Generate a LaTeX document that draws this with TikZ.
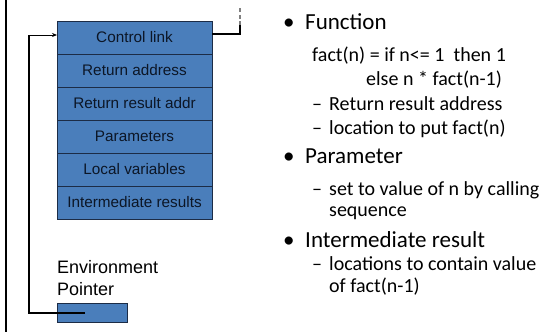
\documentclass[tikz,border=0pt]{standalone}
\usepackage{fontspec}
\setmainfont{Carlito}
\newfontfamily\boxfont{Liberation Sans}
\usetikzlibrary{arrows.meta,positioning}
\definecolor{cellblue}{RGB}{74,126,187}
\definecolor{celledge}{RGB}{28,44,70}
\definecolor{celltext}{RGB}{12,22,38}
\tikzset{
  cell/.style={draw=celledge, line width=0.9pt, fill=cellblue, minimum width=155pt,
    minimum height=33pt, inner sep=0pt, outer sep=0pt, anchor=north west,
    font=\boxfont\fontsize{15.3}{18}\selectfont, text=celltext},
  lvlone/.style={anchor=base west, inner sep=0pt, font=\fontsize{23}{27}\selectfont},
  lvltwo/.style={anchor=base west, inner sep=0pt, font=\fontsize{20}{24}\selectfont},
  link/.style={line width=2pt, black},
}
\begin{document}
\begin{tikzpicture}[x=1pt,y=1pt]
  \useasboundingbox (0,0) rectangle (546,-332);
  % left margin rule
  \coordinate (rtop) at (6,0);
  \coordinate (rbot) at (6,-332);
  \draw[line width=2pt] (rtop) -- (rbot);

  % activation record
  \node[cell] (r1) at (57,-21)  {Control link};
  \node[cell] (r2) at (57,-54)  {Return address};
  \node[cell] (r3) at (57,-87)  {Return result addr};
  \node[cell] (r4) at (57,-120) {Parameters};
  \node[cell] (r5) at (57,-153) {Local variables};
  \node[cell] (r6) at (57,-186) {Intermediate results};

  % environment pointer
  \node[anchor=base west, inner sep=0pt, align=left,
        font=\boxfont\fontsize{18}{22}\selectfont] (eplabel) at (57,-295)
        {Environment\\Pointer};
  \node[cell, minimum width=70pt, minimum height=19pt] (ep) at (57,-303) {};

  % environment pointer into the control link
  \coordinate (epend) at (85,-312.5);
  \coordinate (bendlow) at (29,-312.5);
  \coordinate (bendhigh) at (29,-35);
  \draw[link] (epend) -- (bendlow) -- (bendhigh);
  \draw[line width=1pt, -{Stealth[length=5pt,width=4pt]}] (bendhigh) -- (r1.west |- bendhigh);

  % control link to caller's frame
  \coordinate (cl) at (240,-34);
  \coordinate (cldash) at (240,-25);
  \coordinate (cltop) at (240,-6);
  \draw[link] (r1.east |- cl) -- (cl) -- (cldash);
  \draw[line width=1.5pt, gray, dash pattern=on 4pt off 2.5pt] (cldash) -- (cltop);

  % notes
  \node[lvlone] (b1) at (283,-29) {\textbullet};
  \node[lvlone] (t1) at (305,-29) {Function};
  \node[lvltwo] (t1a) at (312,-61) {fact(n) = if n<= 1 \ then 1};
  \node[lvltwo] (t1b) at (366,-85) {else n * fact(n-1)};
  \node[lvltwo] (d1) at (312,-110) {–};
  \node[lvltwo] (t1c) at (329,-110) {Return result address};
  \node[lvltwo] (d2) at (312,-134) {–};
  \node[lvltwo] (t1d) at (329,-134) {location to put fact(n)};

  \node[lvlone] (b2) at (283,-163) {\textbullet};
  \node[lvlone] (t2) at (305,-163) {Parameter};
  \node[lvltwo] (d3) at (312,-195) {–};
  \node[lvltwo] (t2a) at (329,-195) {set to value of n by calling};
  \node[lvltwo] (t2b) at (329,-216) {sequence};

  \node[lvlone] (b3) at (283,-247) {\textbullet};
  \node[lvlone] (t3) at (305,-247) {Intermediate result};
  \node[lvltwo] (d4) at (312,-270) {–};
  \node[lvltwo] (t3a) at (329,-270) {locations to contain value};
  \node[lvltwo] (t3b) at (329,-292) {of fact(n-1)};
\end{tikzpicture}
\end{document}
